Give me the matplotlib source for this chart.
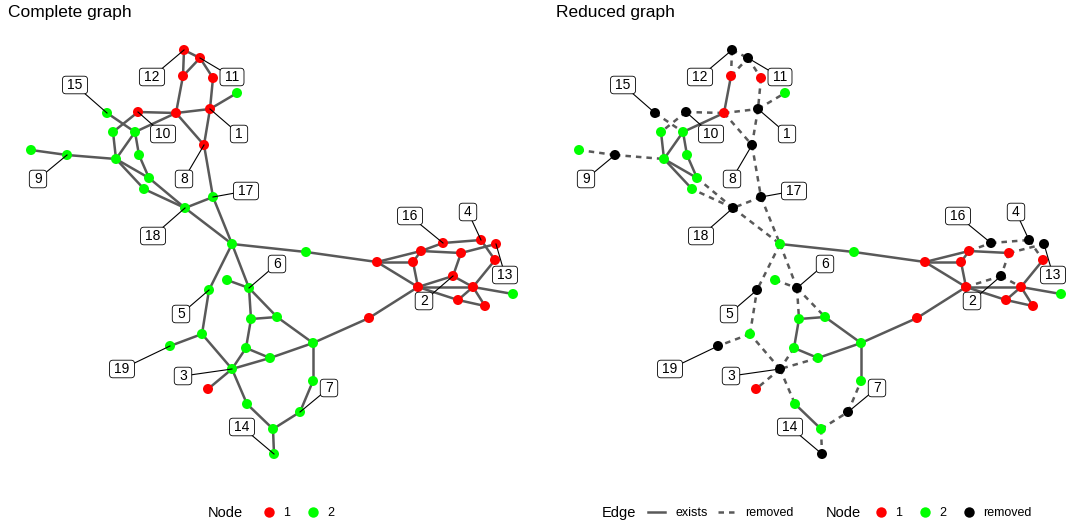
import matplotlib.pyplot as plt
from matplotlib.lines import Line2D
from matplotlib.patches import BoxStyle

plt.rcParams['font.family'] = ['Liberation Sans', 'DejaVu Sans']

# node layout (same layout in both panels)
# type 1 = red, type 2 = green; nodes 1..19 are labelled and removed in the reduced graph
node_id = [1, 2, 3, 4, 5, 6, 7, 8, 9, 10, 11, 12, 13, 14, 15, 16, 17, 18, 19,
           20, 21, 22, 23, 24, 25, 26, 27, 28, 29, 30, 31, 32, 33, 34, 35, 36, 37,
           38, 39, 40, 41, 42, 43, 44, 45, 46, 47, 48, 49, 50, 51, 52, 53, 54]
node_x = [210, 453, 232, 481, 209, 249, 300, 204, 67, 138, 200, 184, 496, 274, 107, 443, 213, 185, 170,
          183, 213, 237, 176, 113, 135, 31, 116, 139, 149, 144, 232, 306, 377, 227, 251, 277, 369,
          202, 313, 246, 270, 208, 313, 247, 273, 421, 413, 461, 495, 418, 473, 513, 458, 485]
node_y = [109, 276, 369, 240, 290, 288, 412, 145, 155, 112, 58, 50, 244, 454, 113, 243, 197, 208, 346,
          76, 78, 93, 113, 132, 132, 150, 159, 155, 178, 189, 244, 252, 262, 280, 319, 317, 318,
          334, 343, 348, 358, 389, 381, 404, 429, 251, 262, 253, 260, 287, 287, 294, 300, 306]
node_type = [1, 1, 2, 1, 2, 2, 2, 1, 2, 1, 1, 1, 1, 2, 2, 1, 2, 2, 2,
             1, 1, 2, 1, 2, 2, 2, 2, 2, 2, 2, 2, 2, 1, 2, 2, 2, 1,
             2, 2, 2, 2, 1, 2, 2, 2, 1, 1, 1, 1, 1, 1, 2, 1, 1]
removed = list(range(1, 20))

edge_from = [12, 12, 20, 11, 20, 21, 1, 23, 10, 23, 1, 8, 17, 17, 18, 18, 18,
             15, 10, 25, 24, 25, 25, 28, 27, 27, 9, 9,
             31, 32, 31, 31, 34, 6, 6, 35, 36, 39, 39, 39, 35, 40, 41, 40, 3, 3, 3, 44, 45, 45, 7, 38, 38,
             37, 33, 33, 33, 46, 46, 47, 46, 16, 48, 4, 48, 50, 50, 50, 51, 51, 51, 53, 2, 49]
edge_to = [11, 20, 11, 21, 23, 1, 22, 1, 23, 8, 8, 17, 31, 18, 31, 29, 30,
           25, 24, 23, 27, 27, 28, 29, 29, 30, 26, 27,
           32, 33, 5, 6, 6, 35, 36, 36, 39, 37, 41, 43, 40, 41, 3, 3, 42, 38, 44, 45, 14, 7, 43, 5, 19,
           50, 46, 47, 50, 16, 47, 50, 48, 4, 13, 49, 2, 2, 51, 53, 52, 53, 54, 54, 51, 51]

# label boxes (repelled positions) for nodes 1..19
label_x = [239, 424, 183, 468, 181, 277, 329, 184, 38, 163, 232, 152, 505, 242, 75, 410, 246, 153, 122]
label_y = [134, 301, 376, 212, 314, 264, 388, 179, 179, 134, 77, 77, 275, 427, 85, 216, 191, 236, 369]

type_colors = {1: '#ff0000', 2: '#00ff00'}
edge_col = '#595959'
dash = (0, (2.2, 2))

pos = {n: (x, y) for n, x, y in zip(node_id, node_x, node_y)}

_round = BoxStyle.Round(pad=0.13, rounding_size=0.25)


def label_box(x0, y0, width, height, mutation_size):
    # rounded box with more room left and right than top and bottom
    extra = 0.22 * mutation_size
    return _round(x0 - extra, y0, width + 2 * extra, height, mutation_size)


def draw_graph(ax, reduced):
    for a, b in zip(edge_from, edge_to):
        cut = reduced and (a in removed or b in removed)
        ax.plot([pos[a][0], pos[b][0]], [pos[a][1], pos[b][1]], color=edge_col, lw=1.8,
                ls=dash if cut else '-', solid_capstyle='butt', zorder=1)
    cols = []
    for n, t in zip(node_id, node_type):
        if reduced and n in removed:
            cols.append('black')
        else:
            cols.append(type_colors[t])
    ax.scatter(node_x, node_y, s=52, c=cols, linewidths=0, zorder=2)
    for i, (lx, ly) in enumerate(zip(label_x, label_y)):
        n = i + 1
        ax.plot([lx, pos[n][0]], [ly, pos[n][1]], color='black', lw=0.8, zorder=3)
        ax.text(lx, ly, str(n), ha='center', va='center', fontsize=10, zorder=4,
                bbox=dict(boxstyle=label_box, fc='white', ec='black', lw=0.6))
    ax.set_xlim(0, 519)
    ax.set_ylim(522, 0)
    ax.axis('off')


W, H = 1067, 522
fig = plt.figure(figsize=(W / 100, H / 100), dpi=100)
ax1 = fig.add_axes([0, 0, 519 / W, 1])
ax2 = fig.add_axes([548 / W, 0, 519 / W, 1])
draw_graph(ax1, False)
draw_graph(ax2, True)

fig.text(8 / W, 1 - 13 / H, 'Complete graph', fontsize=12.5, va='center')
fig.text(556 / W, 1 - 13 / H, 'Reduced graph', fontsize=12.5, va='center')

# legends
ly = 1 - 513 / H
dot = dict(ls='none', marker='o', ms=7.5, mec='none')
node_h = [Line2D([], [], color=type_colors[1], **dot), Line2D([], [], color=type_colors[2], **dot)]
leg_kw = dict(loc='center left', frameon=False, fontsize=9, borderpad=0, borderaxespad=0,
              handlelength=1.0, handletextpad=0.62, columnspacing=1.34)

fig.text(208 / W, ly, 'Node', fontsize=10.5, va='center')
fig.legend(node_h, ['1', '2'], bbox_to_anchor=(262.7 / W, ly), ncol=2, **leg_kw)

fig.text(602 / W, ly, 'Edge', fontsize=10.5, va='center')
edge_h = [Line2D([], [], color=edge_col, lw=1.8), Line2D([], [], color=edge_col, lw=1.8, ls=dash)]
fig.legend(edge_h, ['exists', 'removed'], bbox_to_anchor=(648 / W, ly), ncol=2, loc='center left',
           frameon=False, fontsize=9, borderpad=0, borderaxespad=0,
           handlelength=1.36, handletextpad=0.8, columnspacing=0.88)

fig.text(826 / W, ly, 'Node', fontsize=10.5, va='center')
node_h2 = node_h + [Line2D([], [], color='black', **dot)]
fig.legend(node_h2, ['1', '2', 'removed'], bbox_to_anchor=(874.7 / W, ly), ncol=3, **leg_kw)

fig.savefig('out.png', dpi=100)
